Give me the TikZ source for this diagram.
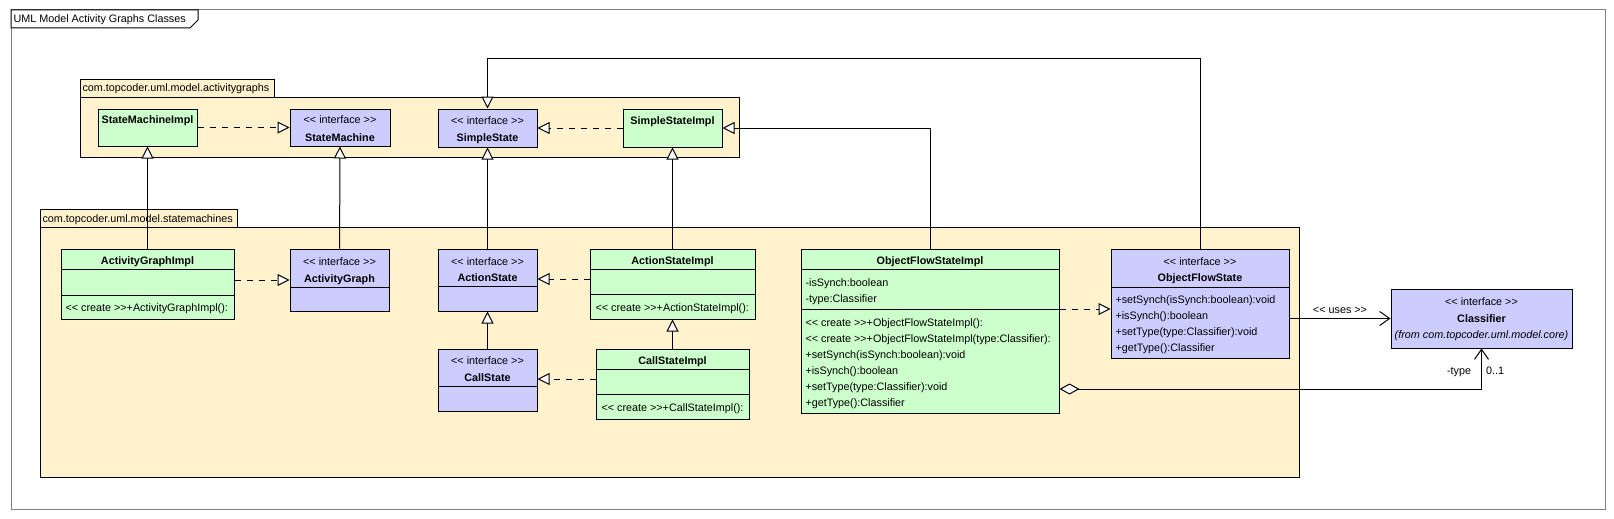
\documentclass[tikz,border=0pt]{standalone}
\usepackage{fontspec}
\setmainfont{Liberation Sans}[Ligatures=TeXOff]
\usepackage{xcolor}
\usetikzlibrary{positioning, arrows.meta, fit}
\definecolor{pkgfill}{RGB}{255,242,204}
\definecolor{implfill}{RGB}{204,255,204}
\definecolor{ifacefill}{RGB}{204,204,255}
\definecolor{framegray}{RGB}{128,128,128}
\newcommand{\umlfont}{\fontsize{10.8}{13}\selectfont}

\begin{document}
\begin{tikzpicture}[x=1pt, y=-1pt, line width=1pt,
  pkg/.style={draw, fill=pkgfill, inner sep=0},
  impl/.style={draw, fill=implfill, inner sep=0},
  iface/.style={draw, fill=ifacefill, inner sep=0},
  txt/.style={font=\umlfont, inner sep=0, anchor=base},
  bold/.style={txt, font=\umlfont\bfseries},
  member/.style={txt, anchor=base west},
  realize/.style={dash pattern=on 6pt off 6pt, -{Triangle[fill=white, length=12pt, width=12pt]}},
  inherit/.style={-{Triangle[fill=white, length=12pt, width=12pt]}},
  uses/.style={-{Straight Barb[length=10pt, width=14pt]}},
  aggr/.style={{Diamond[fill=white, length=20pt, width=11pt]}-{Straight Barb[length=10pt, width=14pt]}}
]
  \fill[white] (0,0) rectangle (1614,519);
  \useasboundingbox (0,0) rectangle (1614,519);

  % frame
  \node[draw=framegray, inner sep=0, fit={(11,10)(1605,509)}] (frame) {};
  \draw[fill=white] (11,10) -- (198,10) -- (198,20) -- (190,28) -- (11,28) -- cycle;
  \node[member] (title) at (13,23) {UML Model Activity Graphs Classes};

  % packages
  \node[pkg, fit={(80,79)(274,97)}] (agtab) {};
  \node[pkg, fit={(80,97)(739,157)}] (agpkg) {};
  \node[member] (aglabel) at (82,92) {com.topcoder.uml.model.activitygraphs};
  \node[pkg, fit={(40,209)(237,227)}] (smtab) {};
  \node[pkg, fit={(40,227)(1299,477)}] (smpkg) {};
  \node[member] (smlabel) at (42,222) {com.topcoder.uml.model.statemachines};

  % activitygraphs
  \node[impl, fit={(98,109)(197,146)}] (smimpl) {};
  \node[bold] (smimpl-n) at (147.5,123) {StateMachineImpl};
  \node[iface, fit={(290,109)(390,146)}] (sm) {};
  \node[txt] (sm-s) at (340,123) {<< interface >>};
  \node[bold] (sm-n) at (340,141) {StateMachine};
  \node[iface, fit={(438,109)(537,147)}] (ss) {};
  \node[txt] (ss-s) at (487.5,124) {<< interface >>};
  \node[bold] (ss-n) at (487.5,141) {SimpleState};
  \node[impl, fit={(623,109)(722,147)}] (ssimpl) {};
  \node[bold] (ssimpl-n) at (672.5,124) {SimpleStateImpl};

  % statemachines
  \node[impl, fit={(61,249)(234,319)}] (agimpl) {};
  \draw (agimpl.west |- 0,269) -- (agimpl.east |- 0,269);
  \draw (agimpl.west |- 0,295) -- (agimpl.east |- 0,295);
  \node[bold] (agimpl-n) at (147.5,264) {ActivityGraphImpl};
  \node[member] (agimpl-o) at (65,311) {<< create >>+ActivityGraphImpl():};

  \node[iface, fit={(290,249)(389,311)}] (ag) {};
  \draw (ag.west |- 0,287) -- (ag.east |- 0,287);
  \node[txt] (ag-s) at (339.5,265) {<< interface >>};
  \node[bold] (ag-n) at (339.5,282) {ActivityGraph};

  \node[iface, fit={(438,249)(537,311)}] (as) {};
  \draw (as.west |- 0,286) -- (as.east |- 0,286);
  \node[txt] (as-s) at (487.5,265) {<< interface >>};
  \node[bold] (as-n) at (487.5,281) {ActionState};

  \node[impl, fit={(590,249)(755,319)}] (asimpl) {};
  \draw (asimpl.west |- 0,269) -- (asimpl.east |- 0,269);
  \draw (asimpl.west |- 0,294) -- (asimpl.east |- 0,294);
  \node[bold] (asimpl-n) at (672.5,264) {ActionStateImpl};
  \node[member] (asimpl-o) at (595,311) {<< create >>+ActionStateImpl():};

  \node[iface, fit={(438,349)(537,411)}] (cs) {};
  \draw (cs.west |- 0,386) -- (cs.east |- 0,386);
  \node[txt] (cs-s) at (487.5,364) {<< interface >>};
  \node[bold] (cs-n) at (487.5,381) {CallState};

  \node[impl, fit={(596,349)(749,419)}] (csimpl) {};
  \draw (csimpl.west |- 0,369) -- (csimpl.east |- 0,369);
  \draw (csimpl.west |- 0,394) -- (csimpl.east |- 0,394);
  \node[bold] (csimpl-n) at (672.5,364) {CallStateImpl};
  \node[member] (csimpl-o) at (601,411) {<< create >>+CallStateImpl():};

  \node[impl, fit={(801,249)(1059,413)}] (ofsimpl) {};
  \draw (ofsimpl.west |- 0,269) -- (ofsimpl.east |- 0,269);
  \draw (ofsimpl.west |- 0,309) -- (ofsimpl.east |- 0,309);
  \node[bold] (ofsimpl-n) at (930,264) {ObjectFlowStateImpl};
  \node[member] (ofsimpl-a1) at (805,286) {-isSynch:boolean};
  \node[member] (ofsimpl-a2) at (805,302) {-type:Classifier};
  \node[member] (ofsimpl-o1) at (805,326) {<< create >>+ObjectFlowStateImpl():};
  \node[member] (ofsimpl-o2) at (805,342) {<< create >>+ObjectFlowStateImpl(type:Classifier):};
  \node[member] (ofsimpl-o3) at (805,358) {+setSynch(isSynch:boolean):void};
  \node[member] (ofsimpl-o4) at (805,374) {+isSynch():boolean};
  \node[member] (ofsimpl-o5) at (805,390) {+setType(type:Classifier):void};
  \node[member] (ofsimpl-o6) at (805,406) {+getType():Classifier};

  \node[iface, fit={(1111,249)(1289,358)}] (ofs) {};
  \draw (ofs.west |- 0,287) -- (ofs.east |- 0,287);
  \node[txt] (ofs-s) at (1200,265) {<< interface >>};
  \node[bold] (ofs-n) at (1200,281) {ObjectFlowState};
  \node[member] (ofs-o1) at (1115,303) {+setSynch(isSynch:boolean):void};
  \node[member] (ofs-o2) at (1115,319) {+isSynch():boolean};
  \node[member] (ofs-o3) at (1115,335) {+setType(type:Classifier):void};
  \node[member] (ofs-o4) at (1115,351) {+getType():Classifier};

  % core
  \node[iface, fit={(1391,289)(1572,348)}] (cls) {};
  \node[txt] (cls-s) at (1481.5,305) {<< interface >>};
  \node[bold] (cls-n) at (1481.5,322) {Classifier};
  \node[txt, font=\umlfont\itshape] (cls-f) at (1481.5,338) {(from com.topcoder.uml.model.core)};

  % realizations
  \draw[realize] (smimpl) -- (sm);
  \draw[realize] (ssimpl) -- (ss);
  \draw[realize] (agimpl.east |- ag) -- (ag);
  \draw[realize] (asimpl.west |- 0,279) -- (as.east |- 0,279);
  \draw[realize] (csimpl.west |- 0,379) -- (cs.east |- 0,379);
  \draw[realize] (ofsimpl.east |- 0,309) -- (ofs.west |- 0,309);

  % generalizations
  \draw[inherit] (agimpl) -- (smimpl);
  \draw[inherit] (ag) -- (sm);
  \draw[inherit] (as) -- (ss);
  \draw[inherit] (asimpl) -- (ssimpl);
  \draw[inherit] (cs) -- (as);
  \draw[inherit] (csimpl) -- (asimpl);
  \draw[inherit] (ofsimpl.north) |- (ssimpl.east);
  \draw[inherit] (ofs.north) -- ++(0,-190) -| (ss.north);

  % associations
  \draw[uses] (ofs.east |- cls) -- node[txt, above=5pt, anchor=base] (uses-l) {<< uses >>} (cls);
  \draw[aggr] (ofsimpl.east |- 0,389) -| (cls.south);
  \node[txt] (type-l) at (1459,374) {-type};
  \node[txt] (mult-l) at (1495,374) {0..1};
\end{tikzpicture}
\end{document}
